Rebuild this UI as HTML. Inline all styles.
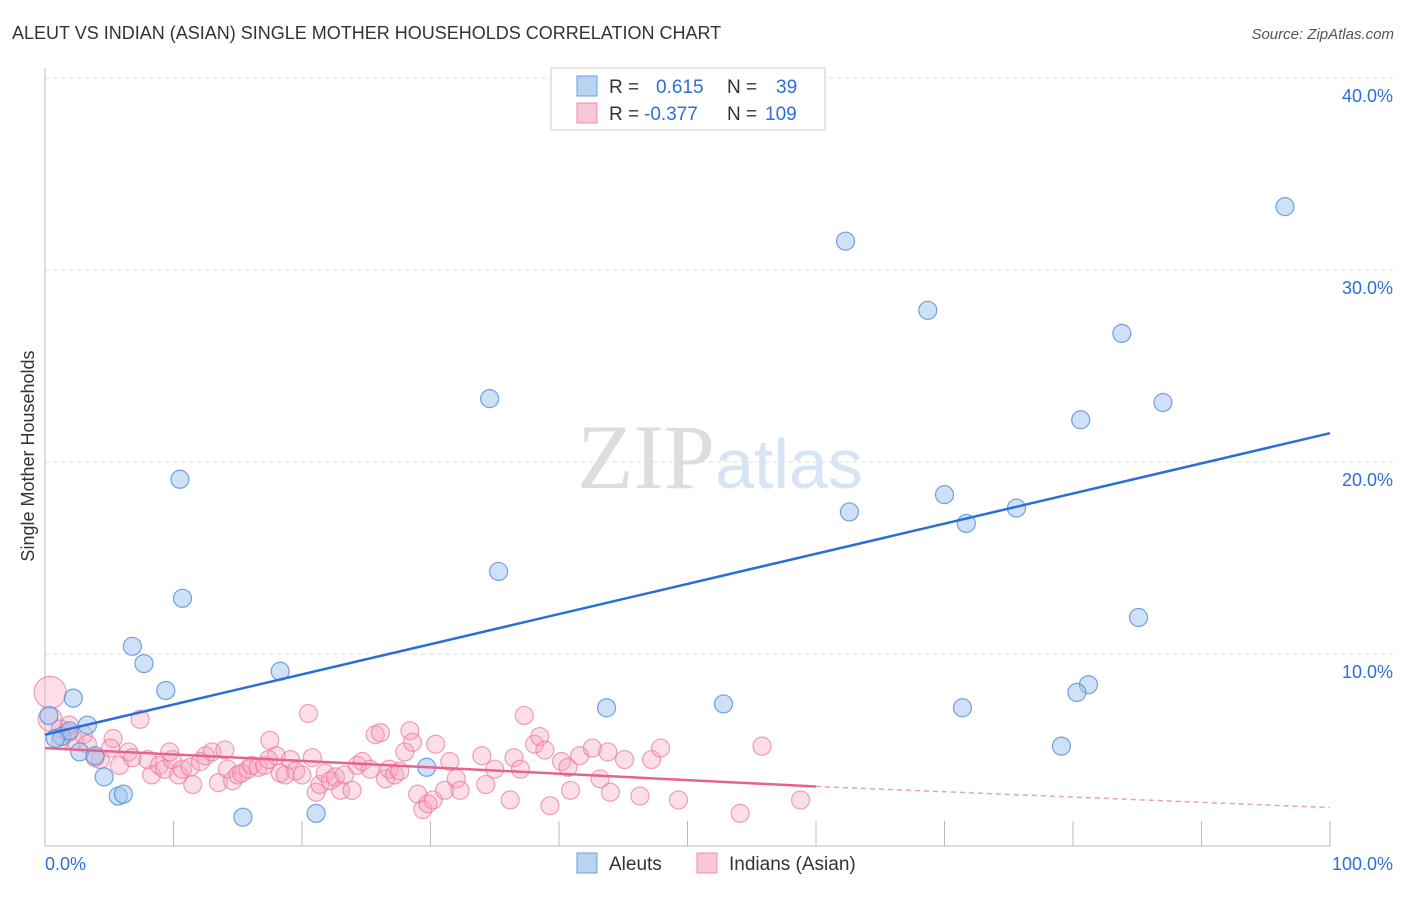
<!DOCTYPE html>
<html><head><meta charset="utf-8"><style>
body{margin:0;background:#fff;font-family:"Liberation Sans",sans-serif;}
svg text{font-family:"Liberation Sans",sans-serif;}
</style></head><body>
<svg id="chart" width="1406" height="892" viewBox="0 0 1406 892" xmlns="http://www.w3.org/2000/svg">
<text x="12" y="39" font-size="18" fill="#333">ALEUT VS INDIAN (ASIAN) SINGLE MOTHER HOUSEHOLDS CORRELATION CHART</text>
<text x="1394" y="39" font-size="15" fill="#555" text-anchor="end" font-style="italic">Source: ZipAtlas.com</text>
<text x="720" y="488" font-size="92" text-anchor="middle"><tspan fill="#ddd" font-family="Liberation Serif">ZIP</tspan><tspan fill="#d6e4f5" font-size="70">atlas</tspan></text>
<g id="grid"></g><g id="axes"></g><g id="pink"></g><g id="blue"></g><g id="lines"></g>
<text transform="translate(34,456) rotate(-90)" font-size="18" fill="#333" text-anchor="middle">Single Mother Households</text>
<g>
<rect x="551" y="68" width="274" height="62" fill="#fff" stroke="#ccc"/>
<rect x="577" y="76" width="20" height="20" fill="#b9d3f3" stroke="#6d9de0"/>
<rect x="577" y="103" width="20" height="20" fill="#f9c6d6" stroke="#ec92af"/>
<text x="609" y="93" font-size="19" fill="#333">R = <tspan fill="#2d6fd6" x="656">0.615</tspan><tspan x="727">N = </tspan><tspan fill="#2d6fd6" x="776">39</tspan></text>
<text x="609" y="120" font-size="19" fill="#333">R = <tspan fill="#2d6fd6" x="644">-0.377</tspan><tspan x="727">N = </tspan><tspan fill="#2d6fd6" x="765">109</tspan></text>
</g>
<g>
<rect x="577" y="853" width="20" height="20" fill="#b9d3f3" stroke="#6d9de0"/>
<text x="609" y="870" font-size="19" fill="#333">Aleuts</text>
<rect x="697" y="853" width="20" height="20" fill="#f9c6d6" stroke="#ec92af"/>
<text x="729" y="870" font-size="19" fill="#333">Indians (Asian)</text>
</g>
</svg>
<script>
const yTicks=[10,20,30,40];
const yTickLabels=["10.0%","20.0%","30.0%","40.0%"];
const xTicks=[10,20,30,40,50,60,70,80,90,100];
const blueX=[96.5,62.3,68.7,83.8,34.6,87.0,80.6,10.5,70.0,62.6,71.7,75.6,35.3,10.7,85.1,6.8,7.7,18.3,9.4,2.2,81.2,80.3,52.8,43.7,71.4,0.3,3.3,1.3,1.9,79.1,2.7,3.9,29.7,4.6,5.7,6.1,15.4,21.1,0.8];
const blueY=[33.3,31.5,27.9,26.7,23.3,23.1,22.2,19.1,18.3,17.4,16.8,17.6,14.3,12.9,11.9,10.4,9.5,9.1,8.1,7.7,8.4,8.0,7.4,7.2,7.2,6.8,6.3,5.7,6.0,5.2,4.9,4.7,4.1,3.6,2.6,2.7,1.5,1.7,5.6];
const pinkX=[0.4,0.4,1.2,1.8,2.3,3.0,3.3,3.9,4.3,5.3,5.8,6.5,6.8,7.4,8.0,8.3,8.9,9.3,9.9,10.4,10.7,11.3,11.5,12.1,12.5,13.0,13.5,14.0,14.2,14.6,15.0,15.3,15.8,16.1,16.6,17.1,17.5,18.0,18.3,18.7,19.1,19.5,20.0,20.5,20.8,21.1,21.4,21.8,22.2,22.6,23.0,23.3,23.9,24.3,24.7,25.3,25.7,26.1,26.5,26.8,27.2,27.6,28.0,28.4,28.6,29.0,29.4,29.8,30.2,30.4,31.1,31.5,32.0,32.3,34.0,34.3,35.0,36.2,36.5,37.0,37.3,38.1,38.5,38.9,39.3,40.2,40.7,40.9,41.6,42.6,43.2,43.8,44.0,45.1,46.3,47.2,47.9,49.3,54.1,55.8,58.8,17.4,9.7,5.1,1.2,1.9];
const pinkY=[8.0,6.6,6.1,5.9,5.5,5.8,5.3,4.6,4.5,5.6,4.2,4.9,4.6,6.6,4.5,3.7,4.2,4.0,4.5,3.7,4.0,4.1,3.2,4.4,4.7,4.9,3.3,5.0,4.0,3.4,3.7,3.8,4.0,4.2,4.1,4.2,5.5,4.7,3.8,3.7,4.5,3.9,3.7,6.9,4.6,2.8,3.2,3.8,3.4,3.6,2.9,3.7,2.9,4.2,4.4,4.0,5.8,5.9,3.5,4.0,3.7,3.9,4.9,6.0,5.4,2.7,1.9,2.2,2.4,5.3,2.9,4.4,3.5,2.9,4.7,3.2,4.0,2.4,4.6,4.0,6.8,5.3,5.7,5.0,2.1,4.4,4.1,2.9,4.7,5.1,3.5,4.9,2.8,4.5,2.6,4.5,5.1,2.4,1.7,5.2,2.4,4.5,4.9,5.1,5.5,6.3];
const pinkR=[16,12];
const blueTrend=[5.8,21.5];
const pinkTrend=[5.1,3.1,2.0];
const NS="http://www.w3.org/2000/svg";
const X=v=>45+v*12.85, Y=v=>846-v*19.2;
function mk(t,a,p){const e=document.createElementNS(NS,t);for(const k in a)e.setAttribute(k,a[k]);document.getElementById(p).appendChild(e);return e;}
yTicks.forEach((t,i)=>{
 let l=mk('line',{x1:45,x2:1394,y1:Y(t),y2:Y(t),stroke:'#ddd','stroke-dasharray':'4,4'},'grid');
 
 
 let tx=mk('text',{x:1393,y:Y(t)+24,'font-size':18,fill:'#2d6fd6','text-anchor':'end'},'grid');
 tx.textContent=yTickLabels[i];
 
 
});
let ax=mk('line',{x1:45,x2:45,y1:68,y2:846,stroke:'#bbb'},'axes');


let bx=mk('line',{x1:45,x2:1330,y1:846,y2:846,stroke:'#bbb'},'axes');


xTicks.forEach(t=>{let l=mk('line',{x1:X(t),x2:X(t),y1:821,y2:846,stroke:'#bbb'},'axes');
 
 });
let x0=mk('text',{x:45,y:870,'font-size':18,fill:'#2d6fd6'},'axes');x0.textContent='0.0%';


let x1=mk('text',{x:1393,y:870,'font-size':18,fill:'#2d6fd6','text-anchor':'end'},'axes');x1.textContent='100.0%';


pinkX.forEach((v,i)=>{let c=mk('circle',{cx:X(v),cy:Y(pinkY[i]),r:pinkR[i]||9,fill:'rgba(245,160,190,0.35)',stroke:'rgba(232,120,160,0.7)','stroke-width':1.2},'pink');
 
 });
blueX.forEach((v,i)=>{let c=mk('circle',{cx:X(v),cy:Y(blueY[i]),r:9,fill:'rgba(160,195,240,0.5)',stroke:'rgba(80,140,220,0.8)','stroke-width':1.2},'blue');
 
 });
let bl=mk('line',{x1:X(0),y1:Y(blueTrend[0]),x2:X(100),y2:Y(blueTrend[1]),stroke:'#2a6fd4','stroke-width':2.5},'lines');


let pl=mk('line',{x1:X(0),y1:Y(pinkTrend[0]),x2:X(60),y2:Y(pinkTrend[1]),stroke:'#e8628f','stroke-width':2.5},'lines');


let pd=mk('line',{x1:X(60),y1:Y(pinkTrend[1]),x2:X(100),y2:Y(pinkTrend[2]),stroke:'#e8a0b8','stroke-width':1.5,'stroke-dasharray':'5,4'},'lines');


</script>
</body></html>
